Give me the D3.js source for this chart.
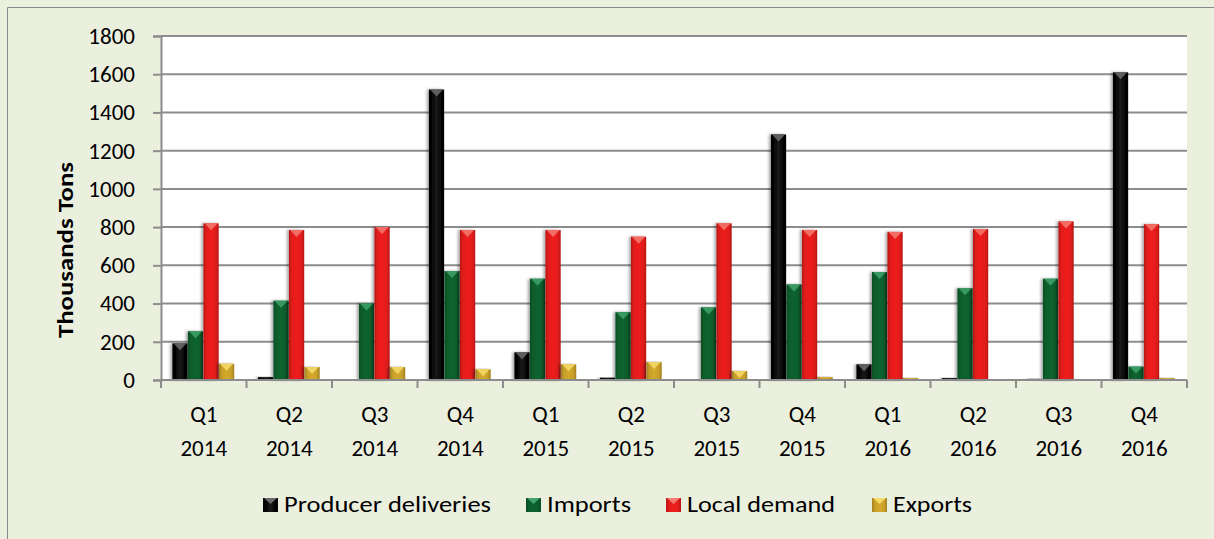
<!DOCTYPE html>
<html><head><meta charset="utf-8">
<script src="https://cdn.jsdelivr.net/npm/d3@7"></script>
<style>
html,body{margin:0;padding:0;background:#fff;}
svg{display:block;font-family:Carlito, Lato, "Open Sans", sans-serif;}
</style></head>
<body><svg id="c" width="1214" height="539"></svg>
<script>
const quarters = ["Q1","Q2","Q3","Q4","Q1","Q2","Q3","Q4","Q1","Q2","Q3","Q4"];
const years = ["2014","2014","2014","2014","2015","2015","2015","2015","2016","2016","2016","2016"];
const seriesNames = ["Producer deliveries","Imports","Local demand","Exports"];
const producer = [192, 15, 2, 1520, 145, 12, 2, 1285, 82, 10, 6, 1610];
const imports = [255, 415, 400, 570, 530, 355, 380, 500, 565, 480, 530, 70];
const localDemand = [820, 785, 800, 785, 785, 750, 820, 785, 775, 790, 830, 815];
const exportsV = [85, 68, 68, 56, 82, 94, 47, 15, 10, 3, 3, 10];
const yTicks = [0,200,400,600,800,1000,1200,1400,1600,1800];
const colors = ["#050505","#0a5e2c","#e21d1b","#c9a02a"];
const lightTop = ["#6b6b6b","#3fa36a","#f57a70","#f5dc6a"];

const values = [producer, imports, localDemand, exportsV];
const cats = quarters.map((q,i)=>i);
const FS = 23;

const svg = d3.select("#c");
svg.append("rect").attr("x",0).attr("y",0).attr("width",1214).attr("height",539).attr("fill","#ebefde");
svg.append("path").attr("d","M7.5,539 V7.5 H1214").attr("fill","none").attr("stroke","#8a8a8a").attr("stroke-width",1);

const L=161, R=1187, T=36, B=380;
const y = d3.scaleLinear().domain([0,1800]).range([B,T]);
const x = d3.scaleBand().domain(cats).range([L,R]).padding(0);
const xs = d3.scaleBand().domain(d3.range(4)).range([x.bandwidth()*0.13, x.bandwidth()*0.86]).padding(0.02);

const defs = svg.append("defs");
colors.forEach((c,i)=>{
  const g = defs.append("linearGradient").attr("id","g"+i).attr("x1","0").attr("x2","1").attr("y1","0").attr("y2","0");
  const dark = d3.color(c).darker(0.6).formatHex();
  const light = i===0 ? "#1a1a1a" : d3.color(c).brighter(0.15).formatHex();
  g.append("stop").attr("offset","0").attr("stop-color",dark);
  g.append("stop").attr("offset","0.2").attr("stop-color",c);
  g.append("stop").attr("offset","0.5").attr("stop-color",light);
  g.append("stop").attr("offset","0.8").attr("stop-color",c);
  g.append("stop").attr("offset","1").attr("stop-color",dark);
});
const sh = defs.append("filter").attr("id","sh").attr("x","-50%").attr("y","-5%").attr("width","200%").attr("height","110%");
sh.append("feGaussianBlur").attr("in","SourceAlpha").attr("stdDeviation",1.5).attr("result","b");
sh.append("feOffset").attr("in","b").attr("dx",-2).attr("dy",0).attr("result","o");
sh.append("feComponentTransfer").attr("in","o").attr("result","o2").append("feFuncA").attr("type","linear").attr("slope",0.35);
const fm = sh.append("feMerge"); fm.append("feMergeNode").attr("in","o2"); fm.append("feMergeNode").attr("in","SourceGraphic");

svg.append("rect").attr("x",L).attr("y",T).attr("width",R-L).attr("height",B-T).attr("fill","#ffffff");

const yAxis = d3.axisLeft(y).tickValues(yTicks).tickSize(8).tickPadding(18).tickFormat(d3.format("d"));
const ya = svg.append("g").attr("transform",`translate(${L},0)`).call(yAxis);
ya.select(".domain").attr("stroke","#8c8c8c").attr("stroke-width",2);
ya.selectAll(".tick line").attr("stroke","#8c8c8c").attr("stroke-width",2);
ya.selectAll(".tick text").attr("font-size",FS).attr("fill","#000").attr("font-family","Carlito, Lato, sans-serif");
svg.append("g").selectAll("line").data(yTicks.filter(d=>d>0)).join("line")
  .attr("x1",L).attr("x2",R).attr("y1",d=>y(d)).attr("y2",d=>y(d))
  .attr("stroke","#8c8c8c").attr("stroke-width",2);

const gcat = svg.append("g").selectAll("g").data(cats).join("g").attr("transform",d=>`translate(${x(d)},0)`);
values.forEach((arr,si)=>{
  gcat.append("g").each(function(ci){
    const v = arr[ci];
    const g = d3.select(this);
    const bx = xs(si), bw = xs.bandwidth();
    const top = y(v), h = B - top;
    if (h <= 0) return;
    g.append("rect").attr("x",bx).attr("y",top).attr("width",bw).attr("height",h)
      .attr("fill",`url(#g${si})`).attr("filter","url(#sh)");
    const th = Math.min(7, h);
    if (h > 4) {
      g.append("path").attr("d",`M${bx+1},${top} L${bx+bw-1},${top} L${bx+bw/2},${top+th} Z`)
        .attr("fill",lightTop[si]).attr("opacity",0.85);
    }
  });
});

svg.append("line").attr("x1",L).attr("x2",R).attr("y1",B).attr("y2",B).attr("stroke","#8c8c8c").attr("stroke-width",2);
const xt = d3.range(13).map(i=>L + i*x.bandwidth());
svg.append("g").selectAll("line").data(xt).join("line")
  .attr("x1",d=>d).attr("x2",d=>d).attr("y1",B).attr("y2",B+8).attr("stroke","#8c8c8c").attr("stroke-width",2);
const xl = svg.append("g").selectAll("text").data(cats).join("text")
  .attr("x",d=>x(d)+x.bandwidth()/2).attr("text-anchor","middle").attr("font-size",FS).attr("fill","#000");
xl.append("tspan").attr("x",d=>x(d)+x.bandwidth()/2).attr("y",422).text(d=>quarters[d]);
xl.append("tspan").attr("x",d=>x(d)+x.bandwidth()/2).attr("y",456).text(d=>years[d]);

svg.append("text").attr("transform","translate(73,250) rotate(-90)").attr("text-anchor","middle")
  .attr("font-size",FS).attr("font-weight","bold").attr("fill","#000")
  .attr("textLength",176).attr("lengthAdjust","spacingAndGlyphs").text("Thousands Tons");

// legend layout (positions only)
const legX = [263, 526, 666, 872];
const legW = [207, 84, 148, 79];
const lg = svg.append("g").selectAll("g").data(seriesNames).join("g").attr("transform",(d,i)=>`translate(${legX[i]},498)`);
lg.append("rect").attr("x",0).attr("y",0).attr("width",15).attr("height",14).attr("fill",(d,i)=>`url(#g${i})`);
lg.append("path").attr("d","M1,0 L14,0 L7.5,6 Z").attr("fill",(d,i)=>lightTop[i]);
lg.append("text").attr("x",21).attr("y",14).attr("font-size",FS).attr("fill","#000")
  .attr("textLength",(d,i)=>legW[i]).attr("lengthAdjust","spacingAndGlyphs").text(d=>d);
</script></body></html>
